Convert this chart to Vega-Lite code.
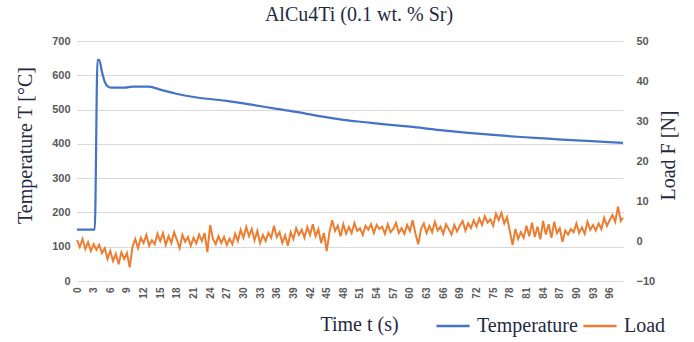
{
  "$schema": "https://vega.github.io/schema/vega-lite/v6.json",
  "width": 546,
  "height": 240,
  "autosize": {"type": "none"},
  "padding": {"left": 77, "top": 41, "right": 71, "bottom": 61},
  "background": "white",
  "title": {"text": "AlCu4Ti (0.1 wt. % Sr)", "font": "Liberation Serif", "fontSize": 20, "fontWeight": "normal", "color": "#1f2a44", "anchor": "middle", "offset": 10, "dx": 9},
  "config": {
    "view": {"stroke": null},
    "axis": {"labelFont": "Liberation Sans", "labelFontWeight": "bold", "labelColor": "#595959", "labelFontSize": 11, "titleFont": "Liberation Serif", "titleFontWeight": "normal", "titleFontSize": 20, "titleColor": "#1f2a44", "ticks": false, "domain": false}
  },
  "datasets": {
    "temp": [
      {"t": 0, "T": 150}, {"t": 3.2, "T": 150}, {"t": 3.7, "T": 645}, {"t": 4.0, "T": 645}, {"t": 4.5, "T": 610},
      {"t": 5.0, "T": 581}, {"t": 5.6, "T": 567}, {"t": 6.2, "T": 564}, {"t": 8.6, "T": 564}, {"t": 10, "T": 567},
      {"t": 13, "T": 567}, {"t": 15, "T": 558}, {"t": 17.7, "T": 547}, {"t": 21.3, "T": 536}, {"t": 26.7, "T": 526},
      {"t": 31.2, "T": 515}, {"t": 36, "T": 502}, {"t": 40, "T": 492}, {"t": 44, "T": 480}, {"t": 48, "T": 470},
      {"t": 52, "T": 463}, {"t": 56, "T": 456}, {"t": 60, "T": 450}, {"t": 65, "T": 441}, {"t": 70, "T": 433},
      {"t": 75, "T": 426}, {"t": 80, "T": 420}, {"t": 85, "T": 415}, {"t": 90, "T": 410}, {"t": 95, "T": 406}, {"t": 98.4, "T": 403}
    ],
    "load": [
      {"t": 0, "F": 0.2}, {"t": 0.5, "F": -1.5}, {"t": 1, "F": 0.5}, {"t": 1.5, "F": -2.0}, {"t": 2, "F": -0.3}, {"t": 2.5, "F": -2.5},
      {"t": 3, "F": -0.8}, {"t": 3.5, "F": -2.2}, {"t": 4, "F": -1.0}, {"t": 4.5, "F": -3.0}, {"t": 5, "F": -1.8}, {"t": 5.5, "F": -4.5},
      {"t": 6, "F": -2.5}, {"t": 6.5, "F": -5.0}, {"t": 7, "F": -3.2}, {"t": 7.5, "F": -5.8}, {"t": 8, "F": -2.8}, {"t": 8.5, "F": -4.5},
      {"t": 9, "F": -3.0}, {"t": 9.5, "F": -6.6}, {"t": 10, "F": -1.5}, {"t": 10.5, "F": 0.5}, {"t": 11, "F": -1.8}, {"t": 11.5, "F": 0.8},
      {"t": 12, "F": -0.5}, {"t": 12.5, "F": 1.5}, {"t": 13, "F": -1.2}, {"t": 13.5, "F": 0.2}, {"t": 14, "F": -0.8}, {"t": 14.5, "F": 1.8},
      {"t": 15, "F": 0.0}, {"t": 15.5, "F": 2.0}, {"t": 16, "F": -1.0}, {"t": 16.5, "F": 1.2}, {"t": 17, "F": -0.5}, {"t": 17.5, "F": 2.2},
      {"t": 18, "F": 0.3}, {"t": 18.5, "F": -1.8}, {"t": 19, "F": 1.5}, {"t": 19.5, "F": -0.2}, {"t": 20, "F": 1.0}, {"t": 20.5, "F": -1.2},
      {"t": 21, "F": 0.8}, {"t": 21.5, "F": -0.6}, {"t": 22, "F": 1.6}, {"t": 22.5, "F": 0.0}, {"t": 23, "F": 2.0}, {"t": 23.5, "F": -2.8},
      {"t": 24, "F": 4.0}, {"t": 24.5, "F": 0.5}, {"t": 25, "F": -0.8}, {"t": 25.5, "F": 1.2}, {"t": 26, "F": -0.5}, {"t": 26.5, "F": 1.0},
      {"t": 27, "F": -1.0}, {"t": 27.5, "F": 0.6}, {"t": 28, "F": -0.8}, {"t": 28.5, "F": 1.8}, {"t": 29, "F": 0.0}, {"t": 29.5, "F": 2.8},
      {"t": 30, "F": 0.8}, {"t": 30.5, "F": 3.5}, {"t": 31, "F": 1.2}, {"t": 31.5, "F": 3.0}, {"t": 32, "F": 0.2}, {"t": 32.5, "F": 2.5},
      {"t": 33, "F": -0.5}, {"t": 33.5, "F": 1.5}, {"t": 34, "F": 0.0}, {"t": 34.5, "F": 2.0}, {"t": 35, "F": 0.8}, {"t": 35.5, "F": 3.8},
      {"t": 36, "F": 1.0}, {"t": 36.5, "F": 2.2}, {"t": 37, "F": -0.5}, {"t": 37.5, "F": 1.4}, {"t": 38, "F": -1.2}, {"t": 38.5, "F": 2.2},
      {"t": 39, "F": 0.5}, {"t": 39.5, "F": 3.2}, {"t": 40, "F": 1.5}, {"t": 40.5, "F": 2.8}, {"t": 41, "F": 0.8}, {"t": 41.5, "F": 3.5},
      {"t": 42, "F": 1.5}, {"t": 42.5, "F": 4.2}, {"t": 43, "F": 1.2}, {"t": 43.5, "F": 3.0}, {"t": 44, "F": -0.5}, {"t": 44.5, "F": 2.0},
      {"t": 45, "F": -2.5}, {"t": 45.5, "F": 2.2}, {"t": 46, "F": 5.2}, {"t": 46.5, "F": 2.5}, {"t": 47, "F": 3.8}, {"t": 47.5, "F": 1.2},
      {"t": 48, "F": 4.2}, {"t": 48.5, "F": 1.8}, {"t": 49, "F": 3.5}, {"t": 49.5, "F": 2.0}, {"t": 50, "F": 4.5}, {"t": 50.5, "F": 2.5},
      {"t": 51, "F": 3.2}, {"t": 51.5, "F": 1.5}, {"t": 52, "F": 3.8}, {"t": 52.5, "F": 2.8}, {"t": 53, "F": 4.2}, {"t": 53.5, "F": 2.0},
      {"t": 54, "F": 4.0}, {"t": 54.5, "F": 3.0}, {"t": 55, "F": 3.6}, {"t": 55.5, "F": 1.8}, {"t": 56, "F": 4.2}, {"t": 56.5, "F": 2.2},
      {"t": 57, "F": 3.0}, {"t": 57.5, "F": 4.5}, {"t": 58, "F": 2.0}, {"t": 58.5, "F": 3.2}, {"t": 59, "F": 1.8}, {"t": 59.5, "F": 4.0},
      {"t": 60, "F": 2.5}, {"t": 60.5, "F": 5.2}, {"t": 61, "F": 1.8}, {"t": 61.5, "F": -0.8}, {"t": 62, "F": 3.0}, {"t": 62.5, "F": 4.4},
      {"t": 63, "F": 2.0}, {"t": 63.5, "F": 3.8}, {"t": 64, "F": 2.2}, {"t": 64.5, "F": 4.8}, {"t": 65, "F": 2.6}, {"t": 65.5, "F": 3.6},
      {"t": 66, "F": 1.8}, {"t": 66.5, "F": 4.2}, {"t": 67, "F": 3.0}, {"t": 67.5, "F": 1.6}, {"t": 68, "F": 4.0}, {"t": 68.5, "F": 2.4},
      {"t": 69, "F": 3.8}, {"t": 69.5, "F": 5.0}, {"t": 70, "F": 2.6}, {"t": 70.5, "F": 4.4}, {"t": 71, "F": 3.2}, {"t": 71.5, "F": 5.2},
      {"t": 72, "F": 3.6}, {"t": 72.5, "F": 5.6}, {"t": 73, "F": 4.0}, {"t": 73.5, "F": 6.2}, {"t": 74, "F": 4.6}, {"t": 74.5, "F": 5.4},
      {"t": 75, "F": 3.8}, {"t": 75.5, "F": 6.8}, {"t": 76, "F": 5.2}, {"t": 76.5, "F": 7.0}, {"t": 77, "F": 4.4}, {"t": 77.5, "F": 6.0},
      {"t": 78, "F": 2.5}, {"t": 78.5, "F": -1.0}, {"t": 79, "F": 3.0}, {"t": 79.5, "F": 0.5}, {"t": 80, "F": 2.2}, {"t": 80.5, "F": 0.8},
      {"t": 81, "F": 3.8}, {"t": 81.5, "F": 1.2}, {"t": 82, "F": 4.6}, {"t": 82.5, "F": 1.0}, {"t": 83, "F": 3.6}, {"t": 83.5, "F": 0.4},
      {"t": 84, "F": 5.0}, {"t": 84.5, "F": 1.6}, {"t": 85, "F": 4.2}, {"t": 85.5, "F": 0.8}, {"t": 86, "F": 4.8}, {"t": 86.5, "F": 2.0},
      {"t": 87, "F": 3.2}, {"t": 87.5, "F": -0.2}, {"t": 88, "F": 2.6}, {"t": 88.5, "F": 1.6}, {"t": 89, "F": 3.0}, {"t": 89.5, "F": 2.2},
      {"t": 90, "F": 4.4}, {"t": 90.5, "F": 2.0}, {"t": 91, "F": 3.4}, {"t": 91.5, "F": 1.8}, {"t": 92, "F": 4.8}, {"t": 92.5, "F": 2.8},
      {"t": 93, "F": 4.0}, {"t": 93.5, "F": 2.6}, {"t": 94, "F": 4.4}, {"t": 94.5, "F": 3.0}, {"t": 95, "F": 5.8}, {"t": 95.5, "F": 3.8},
      {"t": 96, "F": 5.2}, {"t": 96.5, "F": 6.5}, {"t": 97, "F": 4.8}, {"t": 97.5, "F": 8.6}, {"t": 98, "F": 5.0}, {"t": 98.4, "F": 5.8}
    ]
  },
  "encoding": {
    "x": {
      "field": "t", "type": "quantitative",
      "scale": {"domain": [0, 98.4], "nice": false, "zero": false},
      "axis": {"title": "Time t (s)", "values": [0,3,6,9,12,15,18,21,24,27,30,33,36,39,42,45,48,51,54,57,60,63,66,69,72,75,78,81,84,87,90,93,96], "labelAngle": -90, "labelAlign": "right", "labelBaseline": "middle", "labelFontSize": 10, "labelPadding": 6, "grid": false, "labelFlush": false, "labelOverlap": false, "titleX": 282, "titleY": 49, "titleBaseline": "alphabetic", "titleAlign": "center"}
    }
  },
  "layer": [
    {
      "data": {"name": "temp"},
      "mark": {"type": "line", "strokeWidth": 2.2, "interpolate": "monotone"},
      "encoding": {
        "y": {"field": "T", "type": "quantitative", "scale": {"domain": [0, 700], "nice": false},
          "axis": {"orient": "left", "title": "Temperature T [°C]", "values": [0,100,200,300,400,500,600,700], "grid": true, "gridColor": "#d9d9d9", "gridWidth": 1.2, "labelPadding": 7, "titleAngle": 270, "titleX": -52, "titleY": 104, "titleAlign": "center", "titleBaseline": "middle"}},
        "color": {"datum": "Temperature", "type": "nominal",
          "scale": {"domain": ["Temperature", "Load"], "range": ["#4472c4", "#ed7d31"]},
          "legend": {"title": null, "orient": "none", "legendX": 358, "legendY": 267, "direction": "horizontal", "symbolType": "stroke", "symbolSize": 1100, "symbolStrokeWidth": 2.5, "labelFont": "Liberation Serif", "labelFontSize": 20, "labelColor": "#1f2a44", "columnPadding": 0, "labelOffset": 6}}
      }
    },
    {
      "data": {"name": "load"},
      "mark": {"type": "line", "strokeWidth": 2},
      "encoding": {
        "y": {"field": "F", "type": "quantitative", "scale": {"domain": [-10, 50], "nice": false, "zero": false},
          "axis": {"orient": "right", "title": "Load F [N]", "titleAngle": 270, "titleX": 45, "titleY": 114, "titleAlign": "center", "titleBaseline": "middle", "values": [-10,0,10,20,30,40,50], "grid": false, "labelPadding": 13}},
        "color": {"datum": "Load", "type": "nominal"}
      }
    }
  ],
  "resolve": {"scale": {"y": "independent"}}
}
